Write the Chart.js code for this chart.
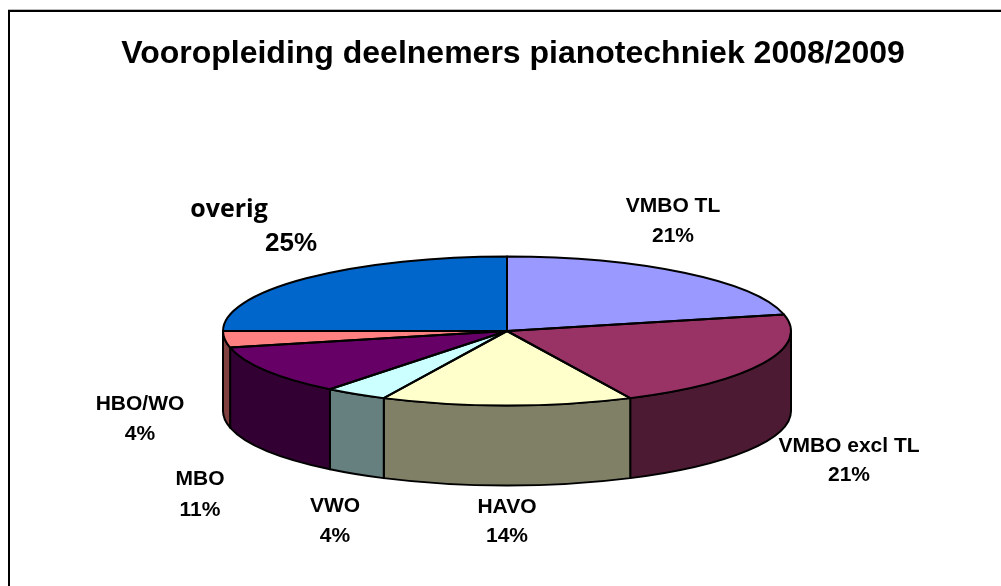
<!DOCTYPE html>
<html>
<head>
<meta charset="utf-8">
<style>html,body{margin:0;padding:0;background:#fff}canvas{display:block}</style>
<script src="https://cdn.jsdelivr.net/npm/chart.js@4"></script>
</head>
<body>
<canvas id="c" width="1001" height="586"></canvas>
<script>
const titleText = 'Vooropleiding deelnemers pianotechniek 2008/2009';
const categories = ['VMBO TL', 'VMBO excl TL', 'HAVO', 'VWO', 'MBO', 'HBO/WO', 'overig'];
const values = [6, 6, 4, 1, 3, 1, 7];
const percentLabels = ['21%', '21%', '14%', '4%', '11%', '4%', '25%'];
const topColors = ['#9999FF', '#993366', '#FFFFCC', '#CCFFFF', '#660066', '#FF8080', '#0066CC'];
const sideColors = ['#4D4D80', '#4D1A33', '#808066', '#668080', '#330033', '#804040', '#003366'];

// view of the tilted pie, in pixels
const view = { cx: 507, cy: 331, rx: 284, ry: 74.5, depth: 80 };
// label anchor positions: [x, y of name, x of pct, y of pct]
const labelSpots = [
  [673, 206, 673, 236],
  [849, 446, 849, 475],
  [507, 507, 507, 536],
  [335, 506, 335, 536],
  [200, 479, 200, 510],
  [140, 404, 140, 434],
  [229, 210, 291, 244]
];

function slicePath(ctx, el) {
  ctx.beginPath();
  ctx.moveTo(view.cx, view.cy);
  ctx.ellipse(view.cx, view.cy, view.rx, view.ry, 0, el.startAngle, el.endAngle);
  ctx.closePath();
}

const tiltPie = {
  id: 'tiltPie',
  beforeDraw(chart) {
    const ctx = chart.ctx;
    ctx.save();
    ctx.fillStyle = '#fff';
    ctx.fillRect(0, 0, chart.width, chart.height);
    ctx.fillStyle = '#000';
    ctx.fillRect(8, 10, chart.width - 8, 2);
    ctx.fillRect(8, 10, 2, chart.height - 10);
    ctx.fillStyle = '#bbb';
    ctx.fillRect(8, 9, chart.width - 8, 1);
    ctx.restore();
  },
  beforeDatasetsDraw(chart) {
    const ctx = chart.ctx;
    const arcs = chart.getDatasetMeta(0).data;
    // side walls of the visible front half
    ctx.save();
    ctx.lineWidth = 2;
    ctx.strokeStyle = '#000';
    ctx.lineJoin = 'round';
    arcs.forEach((el, i) => {
      const a = Math.max(el.startAngle, 0);
      const b = Math.min(el.endAngle, Math.PI);
      if (b <= a) return;
      ctx.beginPath();
      ctx.ellipse(view.cx, view.cy, view.rx, view.ry, 0, a, b);
      ctx.lineTo(view.cx + view.rx * Math.cos(b), view.cy + view.ry * Math.sin(b) + view.depth);
      ctx.ellipse(view.cx, view.cy + view.depth, view.rx, view.ry, 0, b, a, true);
      ctx.closePath();
      ctx.fillStyle = sideColors[i];
      ctx.fill();
      ctx.stroke();
    });
    ctx.restore();
    // squash the library's round pie into the tilted ellipse
    const first = arcs[0];
    ctx.save();
    ctx.translate(view.cx, view.cy);
    ctx.scale(view.rx / first.outerRadius, view.ry / first.outerRadius);
    ctx.translate(-first.x, -first.y);
  },
  afterDatasetsDraw(chart) {
    const ctx = chart.ctx;
    ctx.restore();
    const arcs = chart.getDatasetMeta(0).data;
    ctx.save();
    ctx.lineWidth = 2;
    ctx.strokeStyle = '#000';
    ctx.lineJoin = 'round';
    arcs.forEach(el => { slicePath(ctx, el); ctx.stroke(); });
    ctx.fillStyle = '#000';
    ctx.textAlign = 'center';
    ctx.textBaseline = 'middle';
    categories.forEach((name, i) => {
      const s = labelSpots[i];
      const last = i === categories.length - 1;
      ctx.font = last ? 'bold 25px "Open Sans"' : 'bold 21px "Liberation Sans"';
      ctx.fillText(name, s[0], s[1]);
      ctx.font = last ? 'bold 26px "Liberation Sans"' : 'bold 21px "Liberation Sans"';
      ctx.fillText(percentLabels[i], s[2], s[3]);
    });
    ctx.restore();
  }
};

new Chart(document.getElementById('c'), {
  type: 'pie',
  data: {
    labels: categories,
    datasets: [{ data: values, backgroundColor: topColors, borderWidth: 0, clip: false }]
  },
  options: {
    responsive: false,
    animation: false,
    events: [],
    layout: { padding: { left: 25, top: 0, right: 0, bottom: 0 } },
    plugins: {
      legend: { display: false },
      tooltip: { enabled: false },
      title: {
        display: true,
        text: titleText,
        color: '#000',
        font: { family: '"Liberation Sans"', size: 32, weight: 'bold' },
        padding: { top: 35, bottom: 10 }
      }
    }
  },
  plugins: [tiltPie]
});
</script>
</body>
</html>
